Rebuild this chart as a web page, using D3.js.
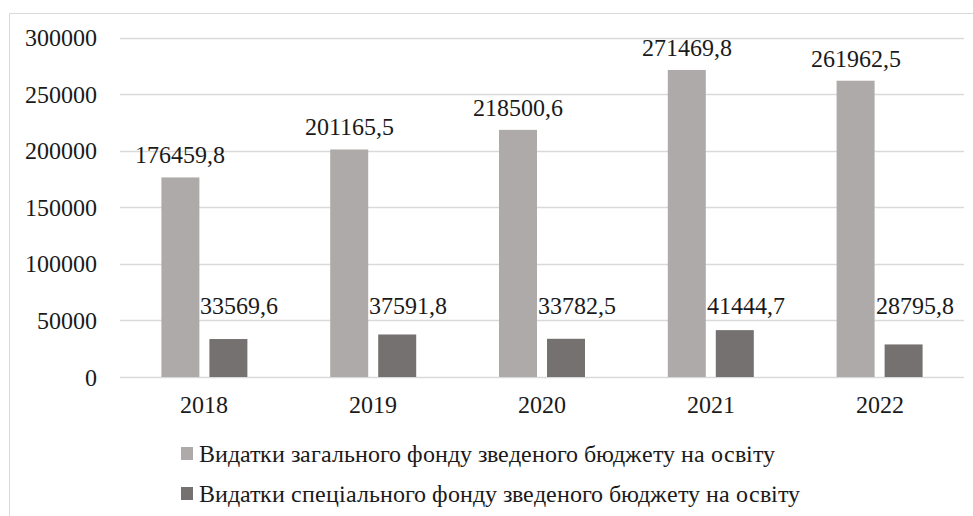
<!DOCTYPE html>
<html><head><meta charset="utf-8">
<script src="https://cdn.jsdelivr.net/npm/d3@7/dist/d3.min.js"></script>
<style>
@font-face{font-family:'RefSerif';src:local('Liberation Serif'),local('LiberationSerif'),local('Liberation Serif Regular'),local('LiberationSerif-Regular');}
svg text{font-family:'RefSerif','Liberation Serif',serif;}
</style>
</head><body style="margin:0;background:#fff"><svg id="c" width="973" height="516" style="display:block"></svg>
<script>
const years = ["2018","2019","2020","2021","2022"];
const generalFund = [176459.8, 201165.5, 218500.6, 271469.8, 261962.5];
const specialFund = [33569.6, 37591.8, 33782.5, 41444.7, 28795.8];
const generalLabels = ["176459,8","201165,5","218500,6","271469,8","261962,5"];
const specialLabels = ["33569,6","37591,8","33782,5","41444,7","28795,8"];
const yTicks = [0,50000,100000,150000,200000,250000,300000];
const seriesNames = ["Видатки загального фонду зведеного бюджету на освіту","Видатки спеціального фонду зведеного бюджету на освіту"];
const colors = ["#AEAAAA","#767171"];

const svg = d3.select("#c");
const fs = 24;
const tc = "#1a1a1a";
const ff = "RefSerif, 'Liberation Serif', serif";
svg.append("path").attr("d","M9.5,516 V13.5 H973").attr("fill","none").attr("stroke","#d9d9d9").attr("stroke-width",1);

const x0 = d3.scaleBand().domain(years).range([120,964]);
const x1 = d3.scaleBand().domain(["g","s"]).range([-43,43]).paddingInner(2-86/48);
const y = d3.scaleLinear().domain([0,300000]).range([377,37.7]);

function txt(sel){ return sel.attr("font-family",ff).attr("font-size",fs).attr("fill",tc); }

svg.append("g").selectAll("line").data(yTicks).join("line")
  .attr("x1",120).attr("x2",964).attr("y1",d=>Math.round(y(d))+0.5).attr("y2",d=>Math.round(y(d))+0.5)
  .attr("stroke","#d9d9d9").attr("stroke-width",1.5);
txt(svg.append("g").selectAll("text").data(yTicks).join("text")
  .attr("x",97).attr("y",d=>y(d)+8.5).attr("text-anchor","end")).text(d=>d);

const cx = d => x0(d)+x0.bandwidth()/2;
svg.append("g").selectAll("rect").data(years).join("rect")
  .attr("x",d=>cx(d)+x1("g")).attr("width",x1.bandwidth())
  .attr("y",(d,i)=>y(generalFund[i])).attr("height",(d,i)=>y(0)-y(generalFund[i])).attr("fill",colors[0]);
svg.append("g").selectAll("rect").data(years).join("rect")
  .attr("x",d=>cx(d)+x1("s")).attr("width",x1.bandwidth())
  .attr("y",(d,i)=>y(specialFund[i])).attr("height",(d,i)=>y(0)-y(specialFund[i])).attr("fill",colors[1]);
txt(svg.append("g").selectAll("text").data(years).join("text")
  .attr("x",d=>cx(d)+x1("g")+x1.bandwidth()/2).attr("y",(d,i)=>y(generalFund[i])-14)
  .attr("text-anchor","middle")).text((d,i)=>generalLabels[i]);
txt(svg.append("g").selectAll("text").data(years).join("text")
  .attr("x",d=>cx(d)+x1("g")+x1.bandwidth()+1).attr("y",y(0)-63)
  .attr("text-anchor","start")).text((d,i)=>specialLabels[i]);
txt(svg.append("g").selectAll("text").data(years).join("text")
  .attr("x",d=>cx(d)).attr("y",413).attr("text-anchor","middle")).text(d=>d);
const lg = svg.append("g").selectAll("g").data(seriesNames).join("g")
  .attr("transform",(d,i)=>`translate(181,${447+i*40})`);
lg.append("rect").attr("width",12).attr("height",13).attr("fill",(d,i)=>colors[i]);
txt(lg.append("text").attr("x",18).attr("y",15)).text(d=>d);
</script></body></html>
